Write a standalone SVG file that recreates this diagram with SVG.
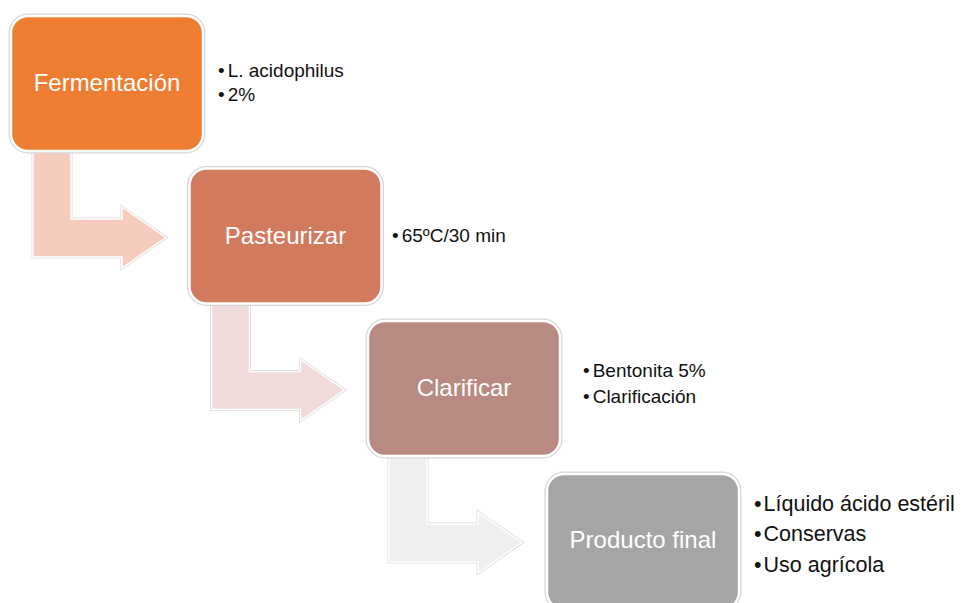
<svg xmlns="http://www.w3.org/2000/svg" xmlns:xlink="http://www.w3.org/1999/xlink" width="962" height="603" viewBox="0 0 962 603">
<style>
.halo{fill:none;stroke:#d6d6d6;stroke-width:5}
.edge{stroke:#ffffff;stroke-width:2.5}
.lbl{font-family:"Liberation Sans",Arial,sans-serif;font-size:24px;fill:#ffffff;text-anchor:middle}
.bul{font-family:"Liberation Sans",Arial,sans-serif;font-size:19px;fill:#111111}
.bul2{font-family:"Liberation Sans",Arial,sans-serif;font-size:21.5px;fill:#111111}
.ahalo{fill:none;stroke:#d9d9d9;stroke-width:3;stroke-linejoin:miter}
.aedge{stroke:#ffffff;stroke-width:1.5;stroke-linejoin:miter}
</style>
<defs>
<path id="bent" d="M33,148 H71 V219 H122 V207 L166,237.5 L122,268 V257 H33 Z"/>
<rect id="box" x="0" y="0" width="192" height="135" rx="17" ry="17"/>
</defs>
<rect width="962" height="603" fill="#ffffff"/>
<g id="connectors">
<g id="arrow1">
<use xlink:href="#bent" class="ahalo"/>
<use xlink:href="#bent" class="aedge" fill="#F5CBBD"/>
</g>
<g id="arrow2" transform="translate(178.5,152.5)">
<use xlink:href="#bent" class="ahalo"/>
<use xlink:href="#bent" class="aedge" fill="#EFDCDA"/>
</g>
<g id="arrow3" transform="translate(356,305)">
<use xlink:href="#bent" class="ahalo"/>
<use xlink:href="#bent" class="aedge" fill="#EFEFEF"/>
</g>
</g>
<g id="fermentacion">
<use xlink:href="#box" x="11" y="16" class="halo"/>
<use xlink:href="#box" x="11" y="16" class="edge" fill="#ED7D31"/>
<text class="lbl" x="107" y="91">Fermentación</text>
<text class="bul" x="218" y="77">•<tspan dx="3">L. acidophilus</tspan></text>
<text class="bul" x="218" y="101">•<tspan dx="3">2%</tspan></text>
</g>
<g id="pasteurizar">
<use xlink:href="#box" x="189.5" y="168.5" class="halo"/>
<use xlink:href="#box" x="189.5" y="168.5" class="edge" fill="#D27A5D"/>
<text class="lbl" x="285.5" y="244">Pasteurizar</text>
<text class="bul" x="392" y="242">•<tspan dx="3">65ºC/30 min</tspan></text>
</g>
<g id="clarificar">
<use xlink:href="#box" x="368" y="321" class="halo"/>
<use xlink:href="#box" x="368" y="321" class="edge" fill="#B98A81"/>
<text class="lbl" x="464" y="396">Clarificar</text>
<text class="bul" x="583" y="377">•<tspan dx="3">Bentonita 5%</tspan></text>
<text class="bul" x="583" y="403">•<tspan dx="3">Clarificación</tspan></text>
</g>
<g id="producto-final">
<use xlink:href="#box" x="547" y="474" class="halo"/>
<use xlink:href="#box" x="547" y="474" class="edge" fill="#A5A5A5"/>
<text class="lbl" x="643" y="548">Producto final</text>
<text class="bul2" x="754" y="511">•<tspan dx="2">Líquido ácido estéril</tspan></text>
<text class="bul2" x="754" y="541">•<tspan dx="2">Conservas</tspan></text>
<text class="bul2" x="754" y="572">•<tspan dx="2">Uso agrícola</tspan></text>
</g>
</svg>
